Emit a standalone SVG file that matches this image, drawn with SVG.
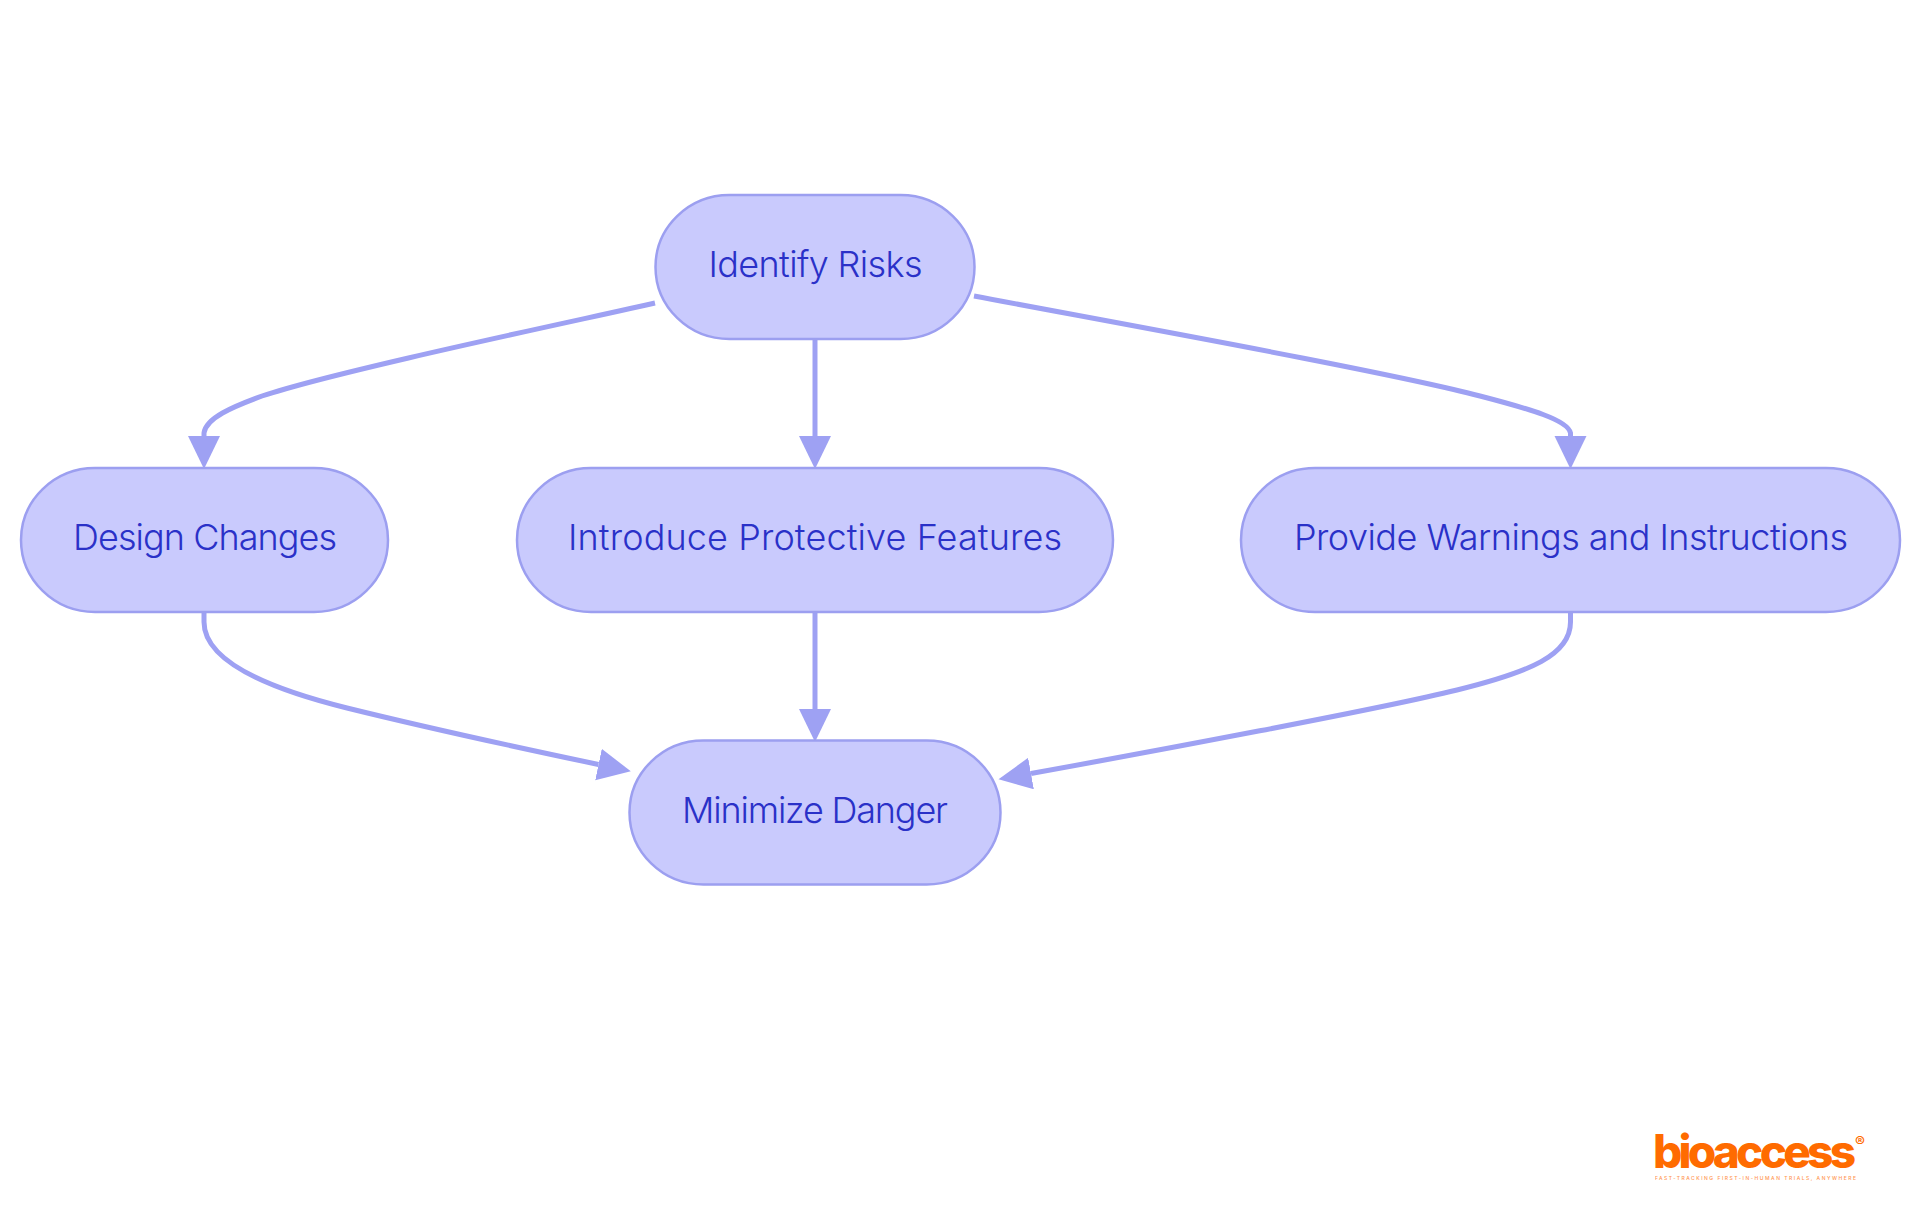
<svg xmlns="http://www.w3.org/2000/svg" width="1920" height="1215" viewBox="0 0 1920 1215">
<style>
.bg{fill:#fff}
.node rect{fill:#C9CAFD;stroke:#9C9FF0;stroke-width:2.5}
.node text{font-family:"Inter","Noto Sans",sans-serif;font-size:36px;font-weight:300;fill:#2A31C8;text-anchor:middle}
.edge{fill:none;stroke:#9EA1F3;stroke-width:5;marker-end:url(#arrow)}
.logo{fill:#FF6B00;font-family:"Inter","Roboto",sans-serif}
</style>
<defs>
<marker id="arrow" markerUnits="userSpaceOnUse" markerWidth="34" markerHeight="33" refX="0" refY="16" orient="auto">
<path d="M0,0L33,16L0,32Z" fill="#9EA1F3"/>
</marker>
</defs>
<rect class="bg" width="1920" height="1215"/>
<g id="connectors">
<path class="edge" d="M655,303C590,318 340,370 262,396C232,407 206,418 204,433V436"/>
<path class="edge" d="M815,339V436"/>
<path class="edge" d="M974,296C1100,320 1390,372 1480,396C1530,409 1568,420 1570.5,433V436"/>
<path class="edge" d="M204,612V622C204,655 250,684 347,708C430,728.5 520,748 598.5,764.5"/>
<path class="edge" d="M815,612V709"/>
<path class="edge" d="M1570.5,612V622C1570.5,655 1530,672 1457,690C1380,709 1150,752 1031,773.5"/>
</g>
<g id="identify-risks" class="node"><rect x="655.5" y="195" width="319" height="144" rx="74" ry="72"/><text x="815.5" y="277" textLength="214" lengthAdjust="spacing">Identify Risks</text></g>
<g id="design-changes" class="node"><rect x="21" y="468" width="367" height="144" rx="74" ry="72"/><text x="205" y="549.5" textLength="264" lengthAdjust="spacing">Design Changes</text></g>
<g id="protective-features" class="node"><rect x="517" y="468" width="596" height="144" rx="74" ry="72"/><text x="815" y="549.5" textLength="494" lengthAdjust="spacing">Introduce Protective Features</text></g>
<g id="warnings-instructions" class="node"><rect x="1241" y="468" width="659" height="144" rx="74" ry="72"/><text x="1571" y="549.5" textLength="554" lengthAdjust="spacing">Provide Warnings and Instructions</text></g>
<g id="minimize-danger" class="node"><rect x="629.5" y="740.5" width="371" height="144" rx="74" ry="72"/><text x="815" y="822.5" textLength="266" lengthAdjust="spacing">Minimize Danger</text></g>
<g id="logo">
<text class="logo" x="1653" y="1168" font-size="46" font-weight="800" textLength="203" lengthAdjust="spacing">bioaccess</text>
<text class="logo" x="1855" y="1147" font-size="15" font-weight="600">®</text>
<text class="logo" x="1655" y="1180" font-size="5" font-weight="500" opacity=".7" textLength="201" lengthAdjust="spacing">FAST-TRACKING FIRST-IN-HUMAN TRIALS, ANYWHERE</text>
</g>
</svg>
